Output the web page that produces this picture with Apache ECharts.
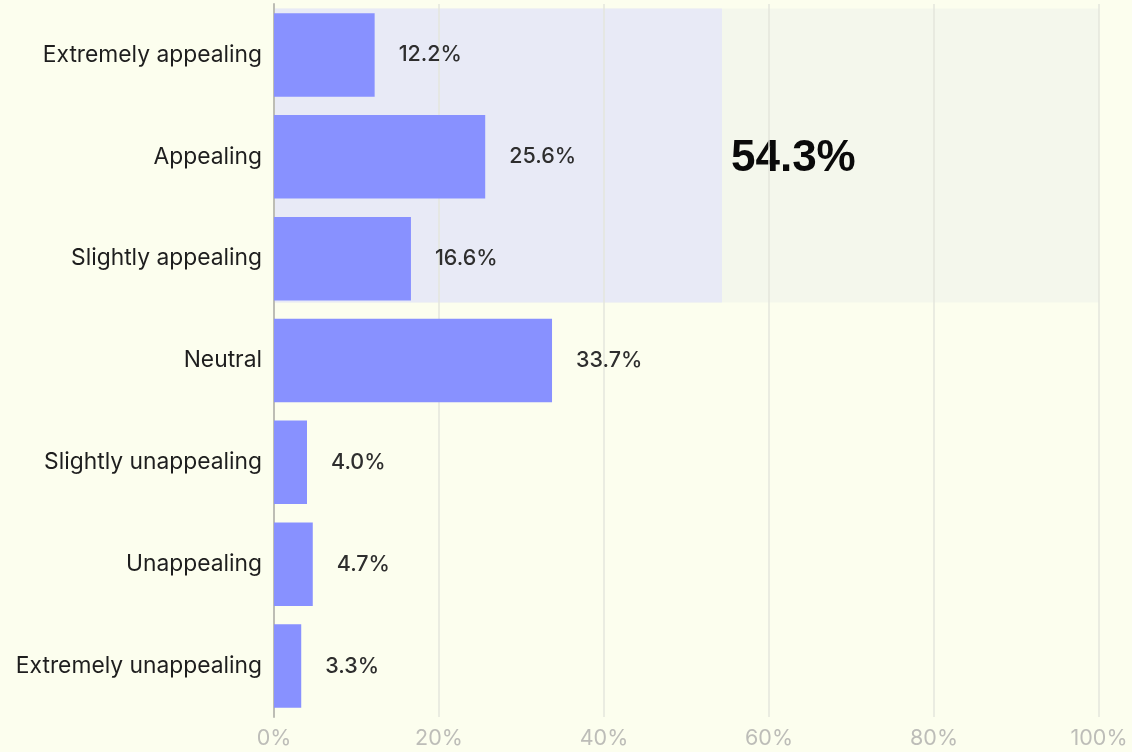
<!DOCTYPE html>
<html>
<head>
<meta charset="utf-8">
<script src="https://cdn.jsdelivr.net/npm/echarts@6/dist/echarts.min.js"></script>
<style>
  html, body { margin: 0; padding: 0; background: #FCFEEE; }
  #chart { width: 1132px; height: 752px; }
</style>
</head>
<body>
<div id="chart"></div>
<script>
// Survey responses: how appealing the concept is
const categories = [
  'Extremely appealing',
  'Appealing',
  'Slightly appealing',
  'Neutral',
  'Slightly unappealing',
  'Unappealing',
  'Extremely unappealing'
];
const shares = [12.2, 25.6, 16.6, 33.7, 4.0, 4.7, 3.3];

// Combined "appealing" group: first three categories
const groupCategories = ['Extremely appealing', 'Appealing', 'Slightly appealing'];
const groupTotal = 54.3;
const groupLabel = '54.3%';

const xTicks = [0, 20, 40, 60, 80, 100];

const FONT = 'Inter, "Noto Sans", sans-serif';

const chart = echarts.init(document.getElementById('chart'), null, { renderer: 'canvas' });

chart.setOption({
  backgroundColor: '#FCFEEE',
  animation: false,
  grid: { left: 274, right: 33, top: 4, bottom: 35, containLabel: false },
  xAxis: {
    type: 'value',
    min: xTicks[0],
    max: xTicks[xTicks.length - 1],
    interval: 20,
    axisLine: { show: false },
    axisTick: { show: false },
    splitLine: { show: true, lineStyle: { color: '#E4E6DC', width: 1.5 } },
    axisLabel: {
      formatter: '{value}%',
      color: '#BDBDB8',
      fontFamily: FONT,
      fontSize: 21.5,
      margin: 11
    }
  },
  yAxis: {
    type: 'category',
    data: categories,
    inverse: true,
    axisLine: { show: true, lineStyle: { color: '#BDBDB5', width: 2 } },
    axisTick: { show: false },
    axisLabel: {
      color: '#1E1E1E',
      fontFamily: FONT,
      fontSize: 22.8,
      margin: 12
    }
  },
  series: [
    {
      // Highlight panel behind the grouped categories
      type: 'custom',
      z: -1,
      silent: true,
      data: [[groupTotal]],
      renderItem: function (params, api) {
        const first = groupCategories[0];
        const last = groupCategories[groupCategories.length - 1];
        const band = api.size([0, 1])[1];
        const topC = api.coord([0, first]);
        const botC = api.coord([0, last]);
        const midC = api.coord([0, groupCategories[1]]);
        const x0 = topC[0];
        const xFull = api.coord([xTicks[xTicks.length - 1], first])[0];
        const xVal = api.coord([api.value(0), first])[0];
        const y0 = topC[1] - band * 0.455;
        const y1 = botC[1] + band * 0.43;
        return {
          type: 'group',
          children: [
            { type: 'rect', shape: { x: x0, y: y0, width: xFull - x0, height: y1 - y0 }, style: { fill: '#F4F7EC' } },
            { type: 'rect', shape: { x: x0, y: y0, width: xVal - x0, height: y1 - y0 }, style: { fill: '#E8EAF6' } },
            {
              type: 'text',
              x: xVal + 9,
              y: midC[1] + 2,
              style: {
                text: groupLabel,
                fill: '#0A0A0A',
                font: 'bold 44px "Liberation Sans", Arial, sans-serif',
                verticalAlign: 'middle',
                align: 'left'
              }
            }
          ]
        };
      }
    },
    {
      type: 'bar',
      data: shares,
      barCategoryGap: '18%',
      itemStyle: { color: '#8891FF' },
      label: {
        show: true,
        position: 'right',
        distance: 24,
        formatter: function (p) { return p.value.toFixed(1) + '%'; },
        color: '#2E2E2E',
        fontFamily: FONT,
        fontWeight: 500,
        fontSize: 21.5
      }
    }
  ]
});
</script>
</body>
</html>
